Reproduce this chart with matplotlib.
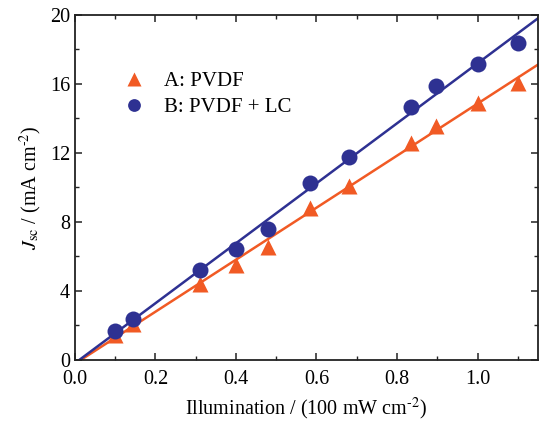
import numpy as np
import matplotlib.pyplot as plt
from matplotlib.ticker import MultipleLocator

plt.rcParams['font.family'] = 'Liberation Serif'
plt.rcParams['mathtext.fontset'] = 'stix'

# Illumination (100 mW cm-2) and Jsc (mA cm-2)
illum = [0.10, 0.145, 0.31, 0.40, 0.48, 0.585, 0.68, 0.835, 0.897, 1.0, 1.10]
jsc_pvdf = [1.45, 2.1, 4.4, 5.5, 6.55, 8.8, 10.1, 12.6, 13.57, 14.9, 16.06]
jsc_pvdf_lc = [1.68, 2.38, 5.2, 6.43, 7.6, 10.26, 11.77, 14.67, 15.9, 17.16, 18.38]

orange = '#F15A24'
blue = '#2E3192'

fig = plt.figure(figsize=(5.39, 4.23), dpi=100)
ax = fig.add_axes([0.139, 0.149, 0.859, 0.816])

# least-squares lines through each series
xfit = np.array([0.0, 1.15])
for y, c in [(jsc_pvdf, orange), (jsc_pvdf_lc, blue)]:
    k, b = np.polyfit(illum, y, 1)
    ax.plot(xfit, k * xfit + b, color=c, lw=1.8, zorder=2)

ax.plot(illum, jsc_pvdf, '^', color=orange, ms=12, mec='none', label='A: PVDF', zorder=3)
ax.plot(illum, jsc_pvdf_lc, 'o', color=blue, ms=11.5, mec='none', label='B: PVDF + LC', zorder=3)

ax.set_xlim(0, 1.15)
ax.set_ylim(0, 20)
ax.xaxis.set_major_locator(MultipleLocator(0.2))
ax.xaxis.set_minor_locator(MultipleLocator(0.1))
ax.yaxis.set_major_locator(MultipleLocator(4))
ax.yaxis.set_minor_locator(MultipleLocator(2))
ax.xaxis.set_major_formatter(lambda v, p: f'{v:.1f}')
ax.tick_params(which='both', direction='in', top=True, right=True, labelsize=14.5, color='#222222')
ax.tick_params(which='major', length=5, width=1.1)
ax.tick_params(which='minor', length=3, width=1.0)
ax.tick_params(axis='x', pad=7)
for s in ax.spines.values():
    s.set_linewidth(1.3)
    s.set_color('#222222')

ax.set_xlabel(r'Illumination / (100 mW cm$^{\text{-}2}$)', fontsize=14.5, labelpad=5)
ax.set_ylabel(r'$J_{\mathrm{sc}}$ / (mA cm$^{\text{-}2}$)', fontsize=14.5, labelpad=4)

ax.legend(loc='upper left', bbox_to_anchor=(0.064, 0.86), frameon=False, fontsize=15,
          handletextpad=0.45, labelspacing=0.3, markerscale=0.8, borderaxespad=0)

fig.savefig('out.png', dpi=100)
